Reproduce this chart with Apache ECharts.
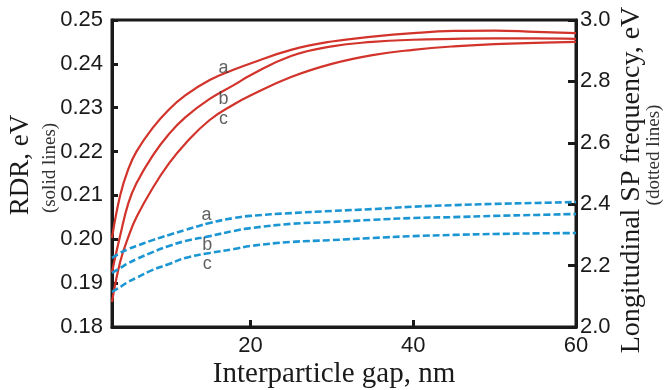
<!DOCTYPE html>
<html><head><meta charset="utf-8">
<script src="https://cdn.jsdelivr.net/npm/echarts@6/dist/echarts.min.js"></script>
<style>html,body{margin:0;padding:0;background:#fff}#c{width:670px;height:390px}</style>
</head><body><div id="c"></div>
<script>
// Interparticle gap (nm)
const gap = [3,4,5,6,8,10,12,15,18,20,25,30,35,40,45,50,55,60];
// RDR (eV), solid lines, left axis
const rdrA = [0.2003,0.2100,0.2160,0.2200,0.2254,0.2296,0.2328,0.2363,0.2387,0.2401,0.2432,0.2451,0.2462,0.2470,0.2475,0.2476,0.2473,0.2470];
const rdrB = [0.1925,0.2008,0.2082,0.2128,0.2191,0.2240,0.2278,0.2320,0.2352,0.2374,0.2418,0.2440,0.2450,0.2455,0.2457,0.2458,0.2458,0.2457];
const rdrC = [0.1857,0.1948,0.2005,0.2050,0.2117,0.2173,0.2218,0.2272,0.2308,0.2328,0.2370,0.2400,0.2420,0.2432,0.2440,0.2445,0.2448,0.2450];
// Longitudinal SP frequency (eV), dotted lines, right axis
const spA = [2.225,2.241,2.254,2.264,2.283,2.300,2.316,2.339,2.355,2.362,2.371,2.378,2.384,2.392,2.397,2.401,2.404,2.407];
const spB = [2.176,2.192,2.208,2.221,2.244,2.264,2.280,2.296,2.313,2.322,2.336,2.342,2.349,2.355,2.358,2.362,2.365,2.368];
const spC = [2.114,2.130,2.147,2.160,2.186,2.205,2.225,2.241,2.254,2.264,2.277,2.283,2.290,2.296,2.300,2.303,2.305,2.306];
const curveNames = ['a','b','c'];
const xTickValues = [20,40,60];

const chart = echarts.init(document.getElementById('c'), null, {renderer:'canvas'});
const RED = '#d2332b', BLUE = '#1b96d3', INK = '#1a1a1a';
const zip = arr => gap.map((g,i)=>[g,arr[i]]);
const solid = (arr) => ({type:'line', data:zip(arr), yAxisIndex:0, smooth:0.45, symbol:'none',
  lineStyle:{color:RED, width:2.2}, z:3});
const dotted = (arr) => ({type:'line', data:zip(arr), yAxisIndex:1, smooth:0.45, symbol:'none',
  lineStyle:{color:BLUE, width:2.6, type:[7,3]}, z:3});
const labelSeries = (pts, axis) => ({type:'scatter', yAxisIndex:axis, symbolSize:0, silent:true,
  data: pts.map((p,i)=>({value:p, label:{show:true, formatter:curveNames[i]}})),
  label:{position:'inside', color:'#3a3a3a', fontSize:18, fontFamily:'Liberation Sans, Arial, sans-serif'}, z:4});

const serif = 'Liberation Serif, Times New Roman, serif';
chart.setOption({
  animation:false,
  backgroundColor:'#fff',
  grid:{left:112, right:94, top:20, bottom:63, show:true, borderColor:INK, borderWidth:3},
  xAxis:{type:'value', min:3, max:60,
    axisLine:{show:true, lineStyle:{color:INK, width:3}},
    axisTick:{show:true, inside:true, length:7, lineStyle:{color:INK, width:3}, customValues:xTickValues},
    axisLabel:{customValues:xTickValues, color:INK, fontSize:22, margin:8, fontFamily:'Liberation Sans, Arial, sans-serif'},
    splitLine:{show:false}},
  yAxis:[
    {type:'value', min:0.18, max:0.25, interval:0.01, position:'left',
      axisLine:{show:true, lineStyle:{color:INK, width:3}},
      axisTick:{show:true, inside:true, length:6, lineStyle:{color:INK, width:3}},
      axisLabel:{color:INK, fontSize:22, margin:9, formatter:v=>v.toFixed(2), fontFamily:'Liberation Sans, Arial, sans-serif'},
      splitLine:{show:false}},
    {type:'value', min:2.0, max:3.0, interval:0.2, position:'right',
      axisLine:{show:true, lineStyle:{color:INK, width:3}},
      axisTick:{show:true, inside:true, length:8, lineStyle:{color:INK, width:3}},
      axisLabel:{color:INK, fontSize:22, margin:4, formatter:v=>v.toFixed(1), fontFamily:'Liberation Sans, Arial, sans-serif'},
      splitLine:{show:false}}
  ],
  series:[
    solid(rdrA), solid(rdrB), solid(rdrC),
    dotted(spA), dotted(spB), dotted(spC),
    labelSeries([[16.7,0.2391],[16.7,0.2320],[16.7,0.2274]], 0),
    labelSeries([[14.6,2.365],[14.7,2.267],[14.7,2.205]], 1)
  ],
  graphic:[
    {type:'text', x:21, y:165, rotation:Math.PI/2, style:{text:'RDR, eV', font:'27px '+serif, fill:INK, textAlign:'center', textVerticalAlign:'middle'}},
    {type:'text', x:50, y:168, rotation:Math.PI/2, style:{text:'(solid lines)', font:'19px '+serif, fill:'#333', textAlign:'center', textVerticalAlign:'middle'}},
    {type:'text', x:632, y:180, rotation:Math.PI/2, style:{text:'Longitudinal SP frequency, eV', font:'28px '+serif, fill:INK, textAlign:'center', textVerticalAlign:'middle'}},
    {type:'text', x:654, y:155, rotation:Math.PI/2, style:{text:'(dotted lines)', font:'19px '+serif, fill:'#333', textAlign:'center', textVerticalAlign:'middle'}},
    {type:'text', x:334, y:374, style:{text:'Interparticle gap, nm', font:'29px '+serif, fill:INK, textAlign:'center', textVerticalAlign:'middle'}}
  ]
});
</script></body></html>
